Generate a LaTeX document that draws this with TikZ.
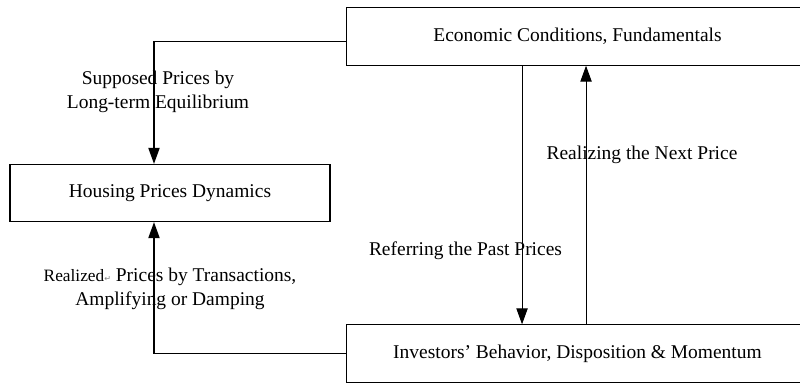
\documentclass[tikz,border=0pt]{standalone}
\usepackage{fontspec}
\setmainfont{Liberation Serif}
\newfontfamily\symfont{DejaVu Sans}
\usepackage{tikz}
\usetikzlibrary{arrows.meta,positioning}

\begin{document}
\begin{tikzpicture}[->,>={Triangle[length=12pt,width=8.5pt]},line width=0.8pt,
                    x=0.75pt,y=-0.75pt,font=\fontsize{14.6}{18}\selectfont]
      \tikzstyle{box}=[draw,rectangle,minimum height=43pt,inner sep=0pt]
      \tikzstyle{lbl}=[align=center,inner sep=0pt]

      \useasboundingbox (0,0) rectangle (800,383);

      \node[box,minimum width=347pt] (econ)  at (577.5,36.5)  {Economic Conditions, Fundamentals};
      \node[box,minimum width=240pt] (house) at (170,193)     {Housing Prices Dynamics};
      \node[box,minimum width=347pt] (invest) at (577.5,353.5) {Investors’ Behavior, Disposition \& Momentum};

      \node[lbl] (supposed) at (158,92)  {Supposed Prices by\\Long-term Equilibrium};
      \node[lbl] (realized) at (170,289) {{\fontsize{13}{18}\selectfont Realized}{\symfont\fontsize{6}{6}\selectfont\color{gray}↵} Prices by Transactions,\\Amplifying or Damping};
      \node[lbl] (next)     at (642,155) {Realizing the Next Price};
      \node[lbl] (past)     at (465.5,251) {Referring the Past Prices};

      \draw ([yshift=-3.4pt]econ.west) -| ([xshift=-12pt]house.north);
      \draw (invest.west) -| ([xshift=-12pt]house.south);
      \draw ([xshift=-41.6pt]econ.south) -- ([xshift=-41.6pt]invest.north);
      \draw ([xshift=6.4pt]invest.north) -- ([xshift=6.4pt]econ.south);

    \end{tikzpicture}
\end{document}
